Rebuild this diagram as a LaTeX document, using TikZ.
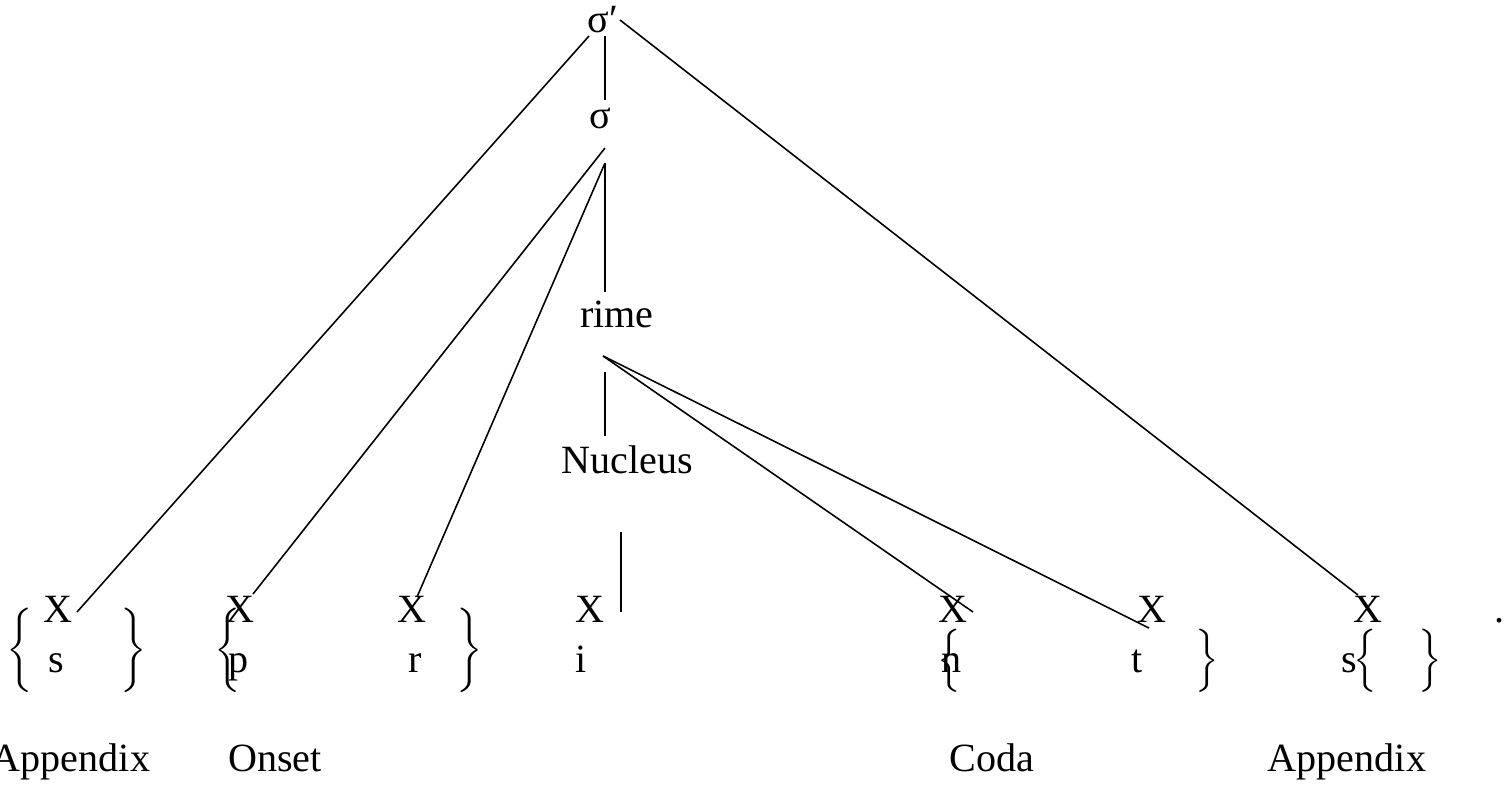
\documentclass[tikz,border=0pt]{standalone}
\usepackage{fontspec}
\setmainfont{Liberation Serif}
\usepackage{tikz}
\usetikzlibrary{positioning}
\tikzset{
  tier/.style  = {anchor=base,inner sep=0pt,font=\fontsize{11.4}{13}\selectfont},
  slot/.style  = {tier},
  seg/.style   = {tier},
  lbl/.style   = {tier},
  brc/.style   = {anchor=south,inner sep=0pt},
  assoc/.style = {line width=0.45pt},
}

\begin{document}
\begin{tikzpicture}[x=0.01cm,y=-0.01cm]
  \useasboundingbox (0,0) rectangle (1505,784);
  % prosodic tiers
  \node[tier] (sigp) at (603,32)  {σ′};
  \node[tier] (sig)  at (600,128) {σ};
  \node[tier] (rime) at (617,327) {rime};
  \node[tier] (nuc)  at (627,473) {Nucleus};
  % skeletal slots
  \node[slot] (x1) at (58,622)   {X};
  \node[slot] (x2) at (240,622)  {X};
  \node[slot] (x3) at (412,622)  {X};
  \node[slot] (x4) at (590,622)  {X};
  \node[slot] (x5) at (953,622)  {X};
  \node[slot] (x6) at (1152,622) {X};
  \node[slot] (x7) at (1368,622) {X};
  \node[slot] (dot) at (1500,622) {.};
  % segments
  \node[seg] (s1) at (56,672)   {s};
  \node[seg] (p)  at (239,672)  {p};
  \node[seg] (r)  at (415,672)  {r};
  \node[seg] (i)  at (581,672)  {i};
  \node[seg] (n)  at (952,672)  {n};
  \node[seg] (t)  at (1137,672) {t};
  \node[seg] (s2) at (1349,672) {s};
  % braces
  \node[brc] (b1l) at (20,693)   {$\bigg\{$};
  \node[brc] (b1r) at (134,693)  {$\bigg\}$};
  \node[brc] (b2l) at (228,693)  {$\bigg\{$};
  \node[brc] (b2r) at (470,693)  {$\bigg\}$};
  \node[brc] (b3l) at (949,693)  {$\Big\{$};
  \node[brc] (b3r) at (1207,693) {$\Big\}$};
  \node[brc] (b4l) at (1365,693) {$\Big\{$};
  \node[brc] (b4r) at (1430,693) {$\Big\}$};
  % constituent labels
  \node[lbl] (app1) at (71,771)   {Appendix};
  \node[lbl] (ons)  at (275,771)  {Onset};
  \node[lbl] (coda) at (992,771)  {Coda};
  \node[lbl] (app2) at (1347,771) {Appendix};
  % line ends
  \coordinate (sigp-l) at (589,36);
  \coordinate (sigp-b) at (605,36);
  \coordinate (sigp-r) at (620,20);
  \coordinate (sig-t)  at (605,100);
  \coordinate (sig-l)  at (605,148);
  \coordinate (sig-b)  at (605,163);
  \coordinate (rime-t) at (605,292);
  \coordinate (rime-b) at (605,372);
  \coordinate (rime-r) at (603,356);
  \coordinate (nuc-t)  at (605,436);
  \coordinate (nuc-b)  at (621,532);
  \coordinate (x1-e) at (77,612);
  \coordinate (x2-e) at (253,594);
  \coordinate (x3-e) at (417,597);
  \coordinate (x4-e) at (621,612);
  \coordinate (x5-e) at (973,612);
  \coordinate (x6-e) at (1149,628);
  \coordinate (x7-e) at (1358,595);
  % association lines
  \draw[assoc] (sigp-l) -- (x1-e);
  \draw[assoc] (sigp-b) -- (sig-t);
  \draw[assoc] (sigp-r) -- (x7-e);
  \draw[assoc] (sig-l) -- (x2-e);
  \draw[assoc] (sig-b) -- (x3-e);
  \draw[assoc] (sig-b) -- (rime-t);
  \draw[assoc] (rime-b) -- (nuc-t);
  \draw[assoc] (rime-r) -- (x5-e);
  \draw[assoc] (rime-r) -- (x6-e);
  \draw[assoc] (nuc-b) -- (x4-e);
\end{tikzpicture}
\end{document}
